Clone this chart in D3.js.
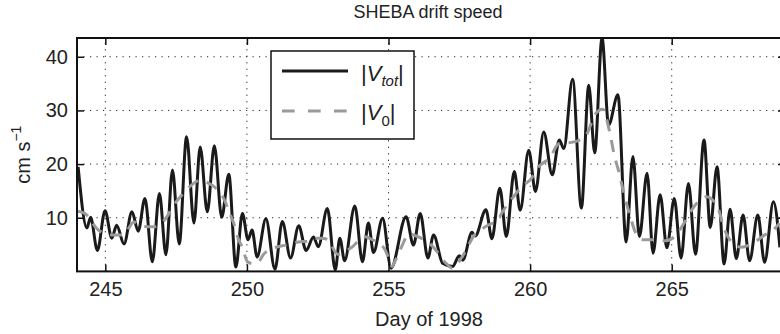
<!DOCTYPE html>
<html>
<head>
<meta charset="utf-8">
<script src="https://cdn.jsdelivr.net/npm/d3@7"></script>
<style>
  body { margin: 0; background: #fff; }
  svg { display: block; font-family: "Liberation Sans", Arial, sans-serif; }
</style>
</head>
<body>
<div id="chart"></div>
<script>
// |V_tot| peaks and troughs (day, cm/s)
const totDays = [244.04, 244.35, 244.48, 244.72, 244.99, 245.23, 245.40, 245.66, 245.94, 246.16,
  246.40, 246.66, 246.91, 247.14, 247.37, 247.61, 247.87, 248.13, 248.35, 248.60,
  248.85, 249.11, 249.36, 249.61, 249.84, 250.04, 250.18, 250.36, 250.67, 250.99,
  251.25, 251.54, 251.83, 252.09, 252.35, 252.52, 252.84, 253.12, 253.28, 253.45,
  253.81, 254.08, 254.29, 254.47, 254.79, 255.09, 255.62, 255.88, 256.12, 256.39,
  256.59, 256.91, 257.26, 257.50, 257.62, 257.95, 258.06, 258.44, 258.65, 258.93,
  259.16, 259.44, 259.65, 259.95, 260.19, 260.48, 260.78, 261.03, 261.19, 261.50,
  261.81, 262.07, 262.28, 262.54, 262.77, 263.10, 263.39, 263.63, 263.86, 264.13,
  264.34, 264.59, 264.83, 265.09, 265.33, 265.59, 265.84, 266.14, 266.36, 266.60,
  266.85, 267.06, 267.28, 267.52, 267.75, 268.04, 268.28, 268.59, 268.82];
const totValues = [19.5, 8.1, 10.1, 3.9, 11.3, 6.2, 8.6, 5.1, 11.1, 7.5,
  13.6, 1.8, 14.5, 3.1, 18.9, 5.1, 25.1, 9.0, 23.2, 11.1,
  23.4, 10.1, 18.1, 0.8, 10.8, 5.9, 7.7, 2.7, 9.8, 0.4,
  9.3, 2.5, 8.5, 3.9, 6.4, 4.6, 11.7, 0.3, 6.2, 2.0,
  12.2, 1.8, 9.0, 3.5, 9.9, 0.6, 10.2, 4.9, 10.8, 2.5,
  6.8, 1.5, 0.9, 2.9, 2.1, 7.3, 6.6, 11.5, 6.1, 15.5,
  6.5, 18.6, 11.4, 22.6, 14.9, 26.0, 18.0, 24.5, 22.9, 35.8,
  11.8, 34.7, 22.1, 43.5, 27.3, 32.9, 5.5, 21.4, 6.5, 18.3,
  3.4, 14.3, 4.4, 13.6, 2.5, 16.4, 3.2, 24.5, 8.2, 19.5,
  1.4, 11.6, 2.4, 10.5, 2.0, 10.5, 1.7, 13.0, 4.5];

// |V_0| (day, cm/s)
const v0Days = [244.01, 244.28, 244.70, 244.81, 245.29, 245.64, 246.01, 246.30, 246.70, 247.20,
  247.35, 247.71, 247.90, 248.36, 248.59, 249.00, 249.16, 249.41, 249.53, 249.70,
  249.83, 250.02, 250.25, 250.46, 250.59, 251.03, 251.38, 251.82, 252.14, 252.40,
  252.65, 252.86, 253.20, 253.73, 254.13, 254.43, 254.86, 255.06, 255.12, 255.23,
  255.48, 255.71, 255.97, 256.43, 256.68, 256.98, 257.26, 257.56, 257.77, 257.97,
  258.41, 258.88, 259.06, 259.41, 259.79, 259.99, 260.30, 260.74, 260.95, 261.06,
  261.41, 261.94, 262.30, 262.56, 262.80, 262.97, 263.15, 263.31, 263.54, 263.71,
  264.01, 264.32, 264.77, 265.12, 265.47, 265.75, 266.03, 266.23, 266.62, 266.83,
  266.99, 267.45, 267.85, 268.29, 268.51, 268.81];
const v0Values = [11.2, 10.8, 8.0, 7.5, 6.8, 6.8, 9.2, 8.4, 8.3, 10.4,
  11.8, 14.3, 15.4, 17.0, 16.6, 15.0, 13.8, 10.6, 9.0, 6.0,
  4.6, 1.8, 1.4, 2.1, 3.2, 4.5, 4.9, 5.5, 5.6, 6.2,
  6.2, 5.9, 3.2, 4.6, 6.5, 5.9, 4.2, 1.6, 0.9, 1.9,
  4.8, 7.0, 6.6, 5.3, 3.9, 1.8, 0.6, 2.4, 4.3, 6.3,
  8.3, 9.8, 11.4, 13.9, 16.2, 17.0, 19.5, 21.5, 23.5, 23.9,
  24.0, 25.1, 29.3, 30.2, 26.2, 21.7, 18.2, 14.5, 10.2, 7.4,
  5.9, 5.9, 5.7, 6.6, 9.3, 11.8, 13.4, 13.9, 12.0, 8.3,
  6.4, 4.5, 5.2, 6.8, 7.4, 9.0];

const xTicks = [245, 250, 255, 260, 265];
const yTicks = [10, 20, 30, 40];

const width = 780, height = 334;
const margin = { top: 38, right: -5, bottom: 62.6, left: 77 };
const fontFamily = '"Liberation Sans", Arial, sans-serif';

const svg = d3.select('#chart')
  .append('svg')
  .attr('width', width)
  .attr('height', height);

const x = d3.scaleLinear()
  .domain([244, 269])
  .range([margin.left, width - margin.right]);

const y = d3.scaleLinear()
  .domain([0, 43.5])
  .range([height - margin.bottom, margin.top]);

const x0 = x.range()[0], x1 = x.range()[1];
const y0 = y.range()[0], y1 = y.range()[1];

// dotted grid
const grid = svg.append('g')
  .attr('stroke', '#222')
  .attr('stroke-width', 1)
  .attr('stroke-dasharray', '1.2,5.3');

grid.selectAll('.vgrid')
  .data(xTicks)
  .enter()
  .append('line')
  .attr('x1', d => x(d)).attr('x2', d => x(d))
  .attr('y1', y0).attr('y2', y1);

grid.selectAll('.hgrid')
  .data(yTicks)
  .enter()
  .append('line')
  .attr('x1', x0).attr('x2', x1)
  .attr('y1', d => y(d)).attr('y2', d => y(d));

// data lines
svg.append('defs').append('clipPath')
  .attr('id', 'clip')
  .append('rect')
  .attr('x', x0).attr('y', y1)
  .attr('width', x1 - x0).attr('height', y0 - y1);

const line = d3.line()
  .x(d => x(d[0]))
  .y(d => y(d[1]))
  .curve(d3.curveMonotoneX);

svg.append('path')
  .datum(d3.zip(totDays, totValues))
  .attr('clip-path', 'url(#clip)')
  .attr('fill', 'none')
  .attr('stroke', '#1a1a1a')
  .attr('stroke-width', 3)
  .attr('stroke-linejoin', 'round')
  .attr('d', line);

svg.append('path')
  .datum(d3.zip(v0Days, v0Values))
  .attr('clip-path', 'url(#clip)')
  .attr('fill', 'none')
  .attr('stroke', '#9a9a9a')
  .attr('stroke-width', 3)
  .attr('stroke-dasharray', '12,9')
  .attr('d', line);

// axes, ticks pointing inward
const xAxis = svg.append('g')
  .attr('transform', `translate(0,${y0})`)
  .call(d3.axisBottom(x).tickValues(xTicks).tickSizeInner(-7).tickSizeOuter(0).tickPadding(10));
const xTop = svg.append('g')
  .attr('transform', `translate(0,${y1})`)
  .call(d3.axisTop(x).tickValues(xTicks).tickSizeInner(-7).tickSizeOuter(0).tickFormat(''));
const yAxis = svg.append('g')
  .attr('transform', `translate(${x0},0)`)
  .call(d3.axisLeft(y).tickValues(yTicks).tickSizeInner(-7).tickSizeOuter(0).tickPadding(9));
const yRight = svg.append('g')
  .attr('transform', `translate(${x1},0)`)
  .call(d3.axisRight(y).tickValues(yTicks).tickSizeInner(-7).tickSizeOuter(0).tickFormat(''));

[xAxis, xTop, yAxis, yRight].forEach(g => {
  g.select('.domain').remove();
  g.selectAll('line').attr('stroke', '#111').attr('stroke-width', 1.5);
  g.selectAll('text')
    .attr('fill', '#222')
    .style('font-size', '20px')
    .style('font-family', fontFamily);
});

// box
svg.append('rect')
  .attr('x', x0).attr('y', y1)
  .attr('width', x1 - x0).attr('height', y0 - y1)
  .attr('fill', 'none')
  .attr('stroke', '#111')
  .attr('stroke-width', 2);

// legend
const legend = svg.append('g');
legend.append('rect')
  .attr('x', 271).attr('y', 51)
  .attr('width', 143).attr('height', 88)
  .attr('fill', '#fff')
  .attr('stroke', '#111')
  .attr('stroke-width', 1.5);
legend.append('line')
  .attr('x1', 282).attr('x2', 348).attr('y1', 71).attr('y2', 71)
  .attr('stroke', '#1a1a1a').attr('stroke-width', 3);
legend.append('line')
  .attr('x1', 282).attr('x2', 348).attr('y1', 111).attr('y2', 111)
  .attr('stroke', '#9a9a9a').attr('stroke-width', 3)
  .attr('stroke-dasharray', '12.7,13.3');

const t1 = legend.append('text')
  .attr('x', 361).attr('y', 81)
  .attr('fill', '#222')
  .style('font-size', '22px');
t1.append('tspan').text('|');
t1.append('tspan').style('font-style', 'italic').text('V');
t1.append('tspan').style('font-style', 'italic').style('font-size', '15px').attr('dy', 5).text('tot');
t1.append('tspan').attr('dy', -5).text('|');

const t2 = legend.append('text')
  .attr('x', 361).attr('y', 120)
  .attr('fill', '#222')
  .style('font-size', '22px');
t2.append('tspan').text('|');
t2.append('tspan').style('font-style', 'italic').text('V');
t2.append('tspan').style('font-size', '15px').attr('dy', 6).text('0');
t2.append('tspan').attr('dy', -6).text('|');

// title and axis labels
svg.append('text')
  .attr('x', (x0 + x1) / 2 - 3).attr('y', 18)
  .attr('text-anchor', 'middle')
  .attr('fill', '#222')
  .style('font-size', '18px')
  .text('SHEBA drift speed');

svg.append('text')
  .attr('x', (x0 + x1) / 2 - 2).attr('y', 326)
  .attr('text-anchor', 'middle')
  .attr('fill', '#222')
  .style('font-size', '20px')
  .text('Day of 1998');

const yl = svg.append('text')
  .attr('transform', `translate(30,${(y0 + y1) / 2}) rotate(-90)`)
  .attr('text-anchor', 'middle')
  .attr('fill', '#222')
  .style('font-size', '20px');
yl.append('tspan').text('cm s');
yl.append('tspan').style('font-size', '14px').attr('dy', -9).text('−1');
</script>
</body>
</html>
